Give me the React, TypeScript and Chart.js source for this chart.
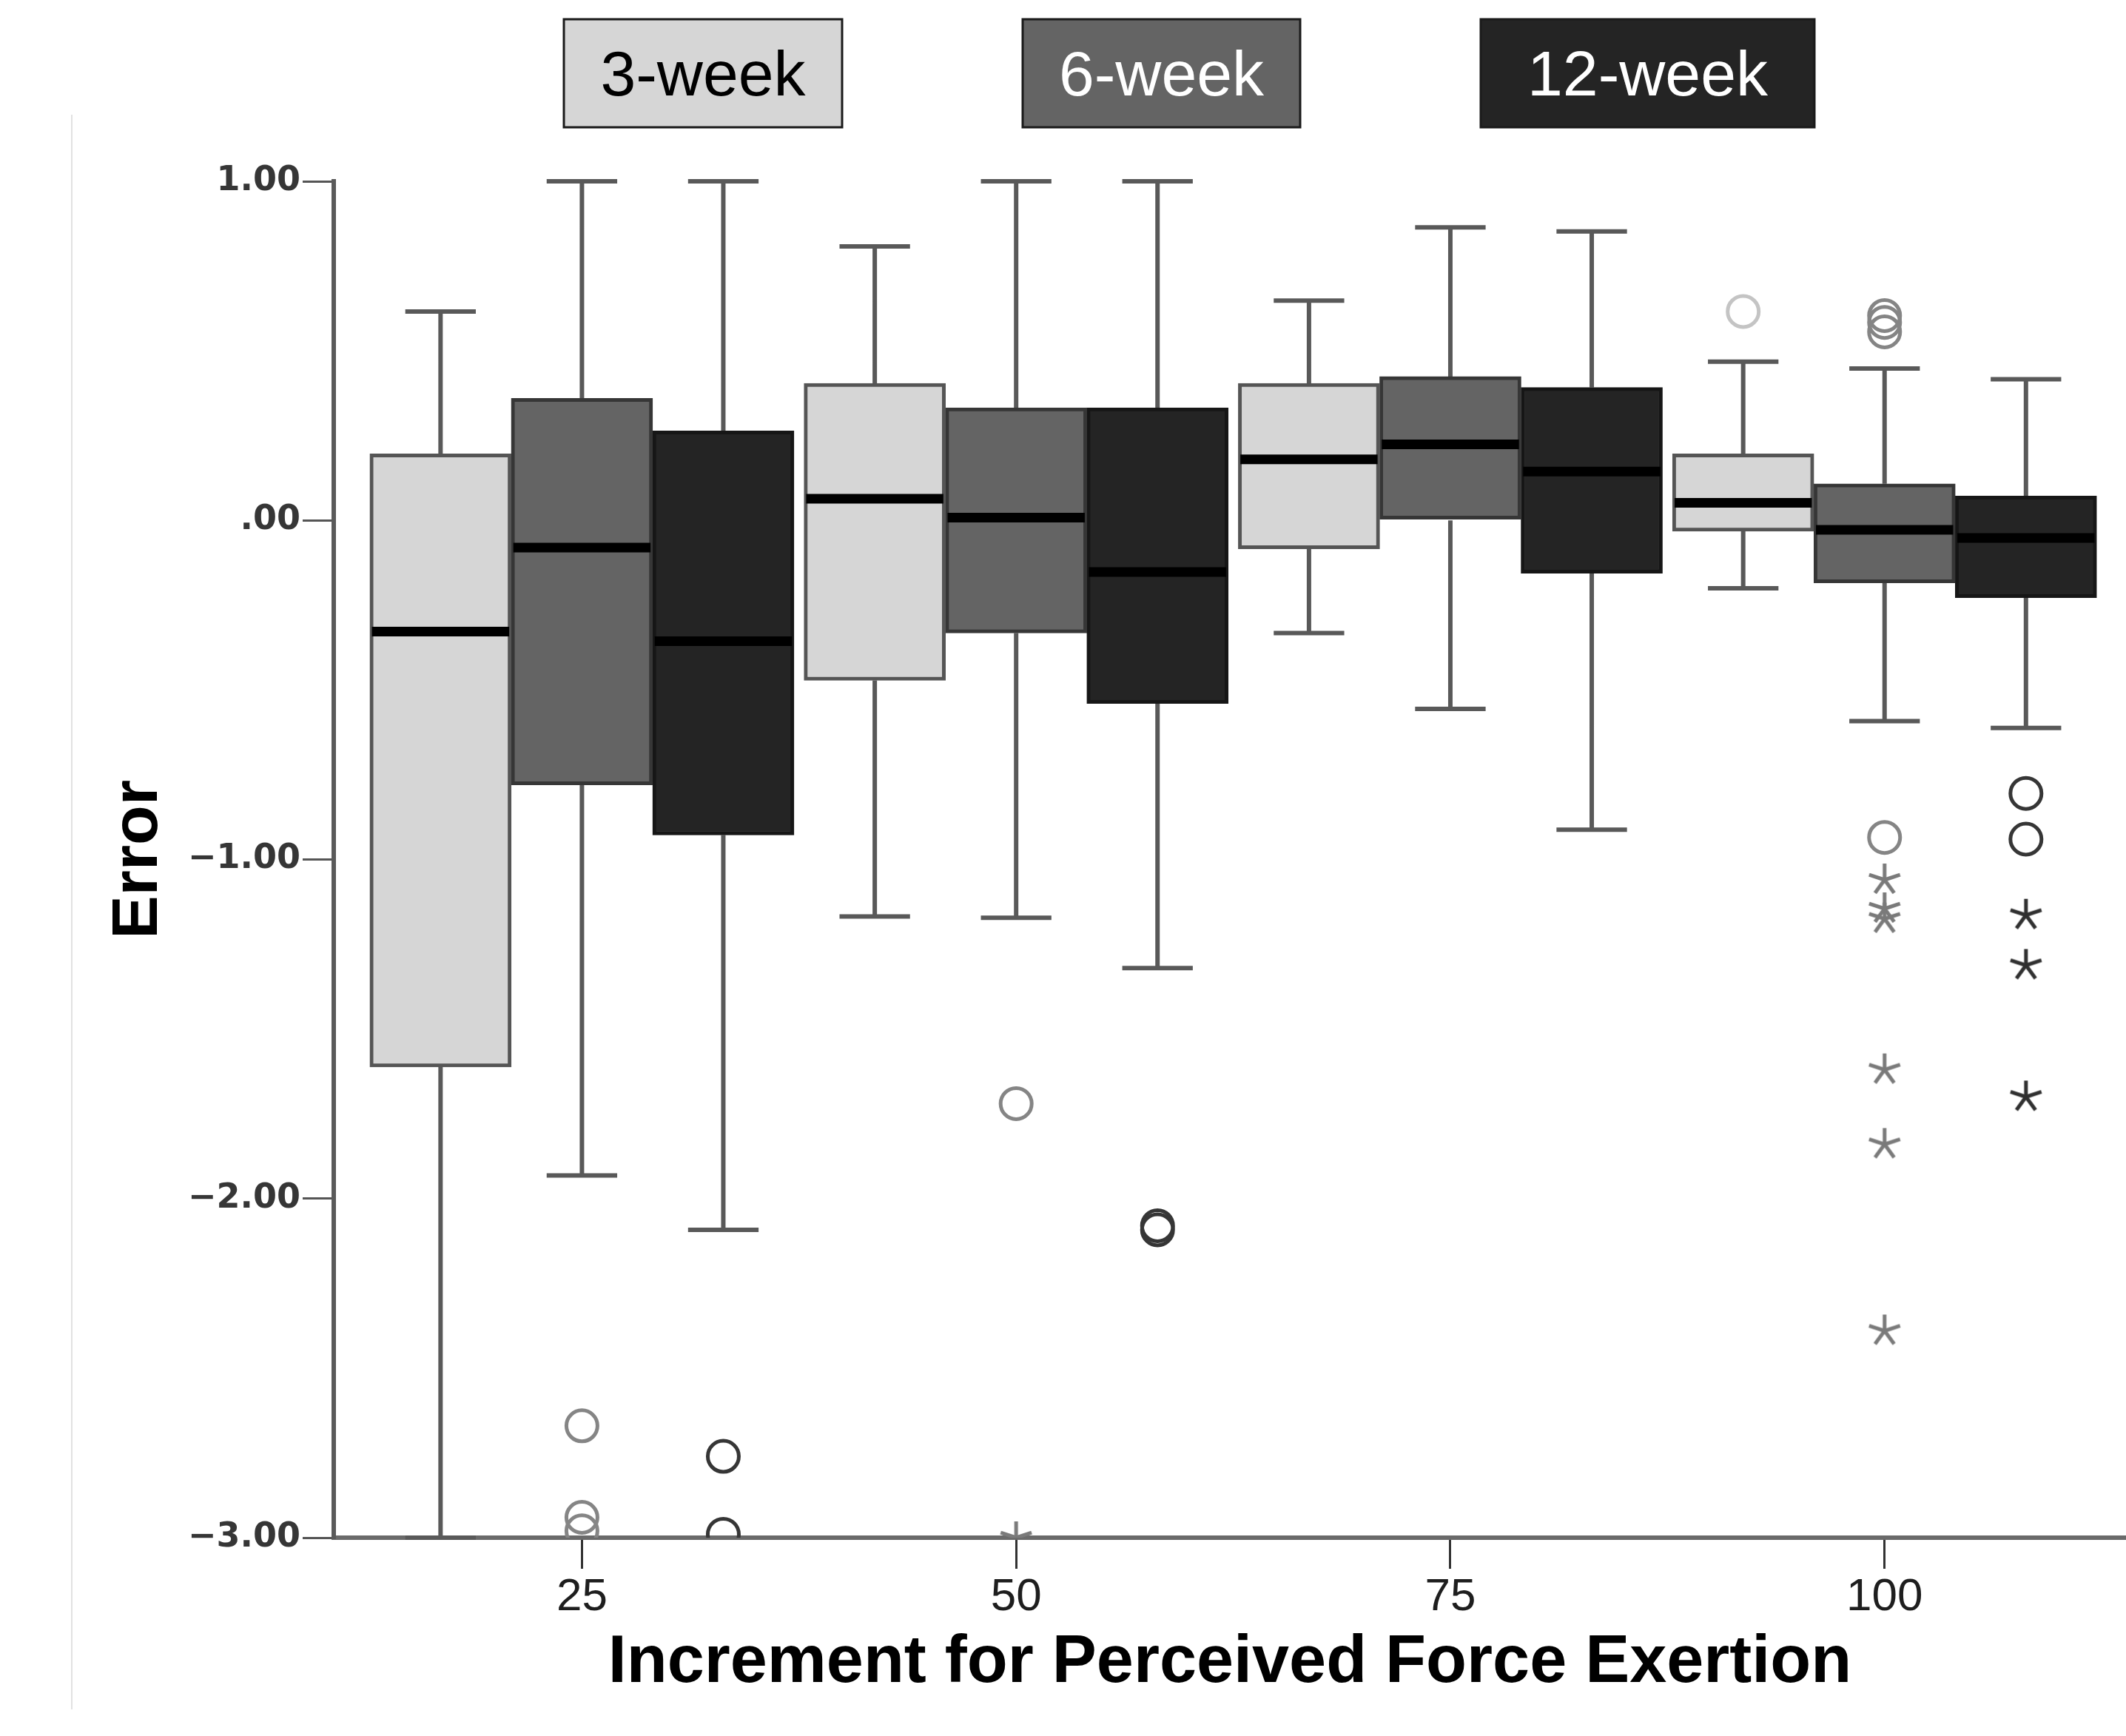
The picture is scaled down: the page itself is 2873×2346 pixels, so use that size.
import { useEffect, useRef } from 'react';
import { Chart, registerables } from 'chart.js';

Chart.register(...registerables);

// ---------- data ----------
const increments = [25, 50, 75, 100];
const seriesNames = ['3-week', '6-week', '12-week'];
const xTickValues = [25, 50, 75, 100];
const yTickValues = [1, 0, -1, -2, -3];

// 3-week
const w3High = [0.616, 0.808, 0.648, 0.468];
const w3Q3 = [0.196, 0.404, 0.404, 0.196];
const w3Median = [-0.328, 0.064, 0.18, 0.052];
const w3Q1 = [-1.612, -0.472, -0.084, -0.032];
const w3Low = [-3.0, -1.168, -0.332, -0.2];
const w3Outliers = [[], [], [], [0.616]];
const w3Extremes = [[], [], [], []];

// 6-week
const w6High = [1.0, 1.0, 0.864, 0.448];
const w6Q3 = [0.36, 0.332, 0.424, 0.108];
const w6Median = [-0.08, 0.008, 0.224, -0.028];
const w6Q1 = [-0.78, -0.332, 0.0, -0.184];
const w6Low = [-1.932, -1.172, -0.556, -0.592];
const w6Outliers = [[-2.67, -2.94, -2.98], [-1.72], [], [0.604, 0.584, 0.556, -0.935]];
const w6Extremes = [[], [-3.0], [], [-1.06, -1.145, -1.175, -1.62, -1.84, -2.39]];

// 12-week
const w12High = [1.0, 1.0, 0.852, 0.416];
const w12Q3 = [0.264, 0.332, 0.392, 0.072];
const w12Median = [-0.356, -0.152, 0.144, -0.052];
const w12Q1 = [-0.928, -0.54, -0.156, -0.228];
const w12Low = [-2.092, -1.32, -0.912, -0.612];
const w12Outliers = [[-2.76, -2.99], [-2.08, -2.092], [], [-0.805, -0.94]];
const w12Extremes = [[], [], [], [-1.164, -1.312, -1.70]];

// ---------- styles ----------
const fills = ['#d6d6d6', '#646464', '#242424'];
const borders = ['#555555', '#363636', '#161616'];
const legendText = ['#000000', '#ffffff', '#ffffff'];
const outlierColors = ['#c4c4c4', '#858585', '#363636'];
const extremeColors = ['#c4c4c4', '#7a7a7a', '#303030'];

const STEP = 8.14; // x-distance between neighbouring boxes (axis units)
const CAP = 2.03; // half-length of whisker caps (axis units)

const W = 2873;
const H = 2346;

const series = [
  { hi: w3High, q3: w3Q3, med: w3Median, q1: w3Q1, lo: w3Low, out: w3Outliers, ext: w3Extremes },
  { hi: w6High, q3: w6Q3, med: w6Median, q1: w6Q1, lo: w6Low, out: w6Outliers, ext: w6Extremes },
  { hi: w12High, q3: w12Q3, med: w12Median, q1: w12Q1, lo: w12Low, out: w12Outliers, ext: w12Extremes },
];

function makeStar(color: string) {
  const size = 48;
  const c = document.createElement('canvas');
  c.width = size;
  c.height = size;
  const ctx = c.getContext('2d')!;
  ctx.strokeStyle = color;
  ctx.lineWidth = 5;
  const r = size / 2 - 2;
  for (let k = 0; k < 5; k++) {
    const a = -Math.PI / 2 + (k * 2 * Math.PI) / 5;
    ctx.beginPath();
    ctx.moveTo(size / 2, size / 2);
    ctx.lineTo(size / 2 + r * Math.cos(a), size / 2 + r * Math.sin(a));
    ctx.stroke();
  }
  return c;
}

const legendBoxes = [
  [762, 1138],
  [1382, 1757],
  [2001, 2452],
];

const decorPlugin = {
  id: 'decor',
  beforeDraw(chart: any) {
    const ctx = chart.ctx;
    ctx.save();
    ctx.fillStyle = '#ffffff';
    ctx.fillRect(0, 0, chart.width, chart.height);
    ctx.strokeStyle = '#e2e2e2';
    ctx.lineWidth = 2;
    ctx.beginPath();
    ctx.moveTo(97, 155);
    ctx.lineTo(97, 2310);
    ctx.stroke();
    ctx.restore();
  },
  afterDraw(chart: any) {
    const ctx = chart.ctx;
    ctx.save();
    seriesNames.forEach((name, i) => {
      const [x0, x1] = legendBoxes[i];
      const y0 = 26;
      const y1 = 172;
      ctx.fillStyle = fills[i];
      ctx.fillRect(x0, y0, x1 - x0, y1 - y0);
      ctx.strokeStyle = '#1a1a1a';
      ctx.lineWidth = 3;
      ctx.strokeRect(x0, y0, x1 - x0, y1 - y0);
      ctx.fillStyle = legendText[i];
      ctx.font = '86px "Liberation Sans"';
      ctx.textAlign = 'center';
      ctx.textBaseline = 'middle';
      ctx.fillText(name, (x0 + x1) / 2, (y0 + y1) / 2 + 6);
    });
    ctx.restore();
  },
};

function fmtY(v: number) {
  if (v === 0) return '.00';
  if (v < 0) return '\u2212' + Math.abs(v).toFixed(2);
  return v.toFixed(2);
}

export default function App() {
  const ref = useRef<HTMLCanvasElement | null>(null);

  useEffect(() => {
    if (!ref.current) return;
    const datasets: any[] = [];
    series.forEach((s, si) => {
      const offset = (si - 1) * STEP;
      const pos = increments.map((g) => g + offset);

      datasets.push({
        type: 'bar',
        label: seriesNames[si],
        data: pos.map((x, i) => ({ x, y: [s.q1[i], s.q3[i]] })),
        backgroundColor: fills[si],
        borderColor: borders[si],
        borderWidth: 5,
        borderSkipped: false,
        grouped: false,
        categoryPercentage: 1,
        barPercentage: 1,
        order: 3,
      });

      const whisk: any[] = [];
      pos.forEach((x, i) => {
        whisk.push({ x, y: s.q3[i] }, { x, y: s.hi[i] }, { x, y: null });
        whisk.push({ x, y: s.q1[i] }, { x, y: s.lo[i] }, { x, y: null });
        whisk.push({ x: x - CAP, y: s.hi[i] }, { x: x + CAP, y: s.hi[i] }, { x, y: null });
        whisk.push({ x: x - CAP, y: s.lo[i] }, { x: x + CAP, y: s.lo[i] }, { x, y: null });
      });
      datasets.push({
        type: 'line',
        label: seriesNames[si] + ' whiskers',
        data: whisk,
        borderColor: '#595959',
        borderWidth: 6,
        pointRadius: 0,
        spanGaps: false,
        fill: false,
        clip: 4,
        order: 4,
      });

      const med: any[] = [];
      pos.forEach((x, i) => {
        med.push({ x: x - STEP / 2 + 0.12, y: s.med[i] }, { x: x + STEP / 2 - 0.12, y: s.med[i] }, { x, y: null });
      });
      datasets.push({
        type: 'line',
        label: seriesNames[si] + ' median',
        data: med,
        borderColor: '#000000',
        borderWidth: 13,
        pointRadius: 0,
        spanGaps: false,
        fill: false,
        order: 1,
      });

      const outs: any[] = [];
      pos.forEach((x, i) => s.out[i].forEach((v) => outs.push({ x, y: v })));
      datasets.push({
        type: 'scatter',
        label: seriesNames[si] + ' outliers',
        data: outs,
        pointStyle: 'circle',
        pointRadius: 21,
        pointBorderWidth: 5,
        pointBackgroundColor: 'rgba(0,0,0,0)',
        pointBorderColor: outlierColors[si],
        showLine: false,
        clip: 0,
        order: 2,
      });

      const exts: any[] = [];
      pos.forEach((x, i) => s.ext[i].forEach((v) => exts.push({ x, y: v })));
      datasets.push({
        type: 'scatter',
        label: seriesNames[si] + ' extremes',
        data: exts,
        pointStyle: makeStar(extremeColors[si]),
        pointRadius: 24,
        showLine: false,
        clip: 0,
        order: 2,
      });
    });

    const chart = new Chart(ref.current, {
      type: 'bar',
      data: { datasets },
      plugins: [decorPlugin],
      options: {
        responsive: false,
        animation: false,
        events: [],
        layout: { autoPadding: false, padding: { top: 245, right: 0, bottom: 0, left: 0 } },
        plugins: { legend: { display: false }, tooltip: { enabled: false } },
        scales: {
          x: {
            type: 'linear',
            min: 10.71,
            max: 113.9,
            offset: false,
            afterBuildTicks: (scale: any) => {
              scale.ticks = xTickValues.map((v) => ({ value: v }));
            },
            afterFit: (scale: any) => {
              scale.height = H - 2078;
              scale.paddingLeft = 0;
              scale.paddingRight = 0;
            },
            ticks: {
              autoSkip: false,
              maxRotation: 0,
              padding: 2,
              color: '#1e1e1e',
              font: { family: 'Liberation Sans', size: 62 },
              callback: (v: any) => String(v),
            },
            grid: { display: true, offset: false, drawOnChartArea: false, drawTicks: true, tickLength: 42, color: '#333333', lineWidth: 3 },
            border: { display: true, color: '#6a6a6a', width: 6 },
            title: {
              display: true,
              text: 'Increment for Perceived Force Exertion',
              color: '#000000',
              font: { family: 'Liberation Sans', size: 90, weight: 'bold' },
              padding: { top: 0, bottom: 44 },
            },
          },
          y: {
            type: 'linear',
            min: -3,
            max: 1,
            afterBuildTicks: (scale: any) => {
              scale.ticks = yTickValues.map((v) => ({ value: v }));
            },
            afterFit: (scale: any) => {
              scale.width = 451;
              scale.paddingTop = 0;
              scale.paddingBottom = 0;
            },
            ticks: {
              autoSkip: false,
              padding: 3,
              color: '#363636',
              font: { family: 'DejaVu Sans', size: 46, weight: 'bold' },
              callback: (v: any) => fmtY(Number(v)),
            },
            grid: { display: true, drawOnChartArea: false, drawTicks: true, tickLength: 42, color: '#555555', lineWidth: 3 },
            border: { display: true, color: '#5a5a5a', width: 6 },
            title: {
              display: true,
              text: 'Error',
              color: '#000000',
              font: { family: 'Liberation Sans', size: 88, weight: 'bold' },
              padding: { top: 135, bottom: 0 },
            },
          },
        },
      } as any,
    });
    return () => chart.destroy();
  }, []);

  return (
    <div style={{ position: 'absolute', left: 0, top: 0, width: W, height: H, background: '#fff' }}>
      <canvas ref={ref} width={W} height={H} style={{ display: 'block', width: W, height: H }} />
    </div>
  );
}
